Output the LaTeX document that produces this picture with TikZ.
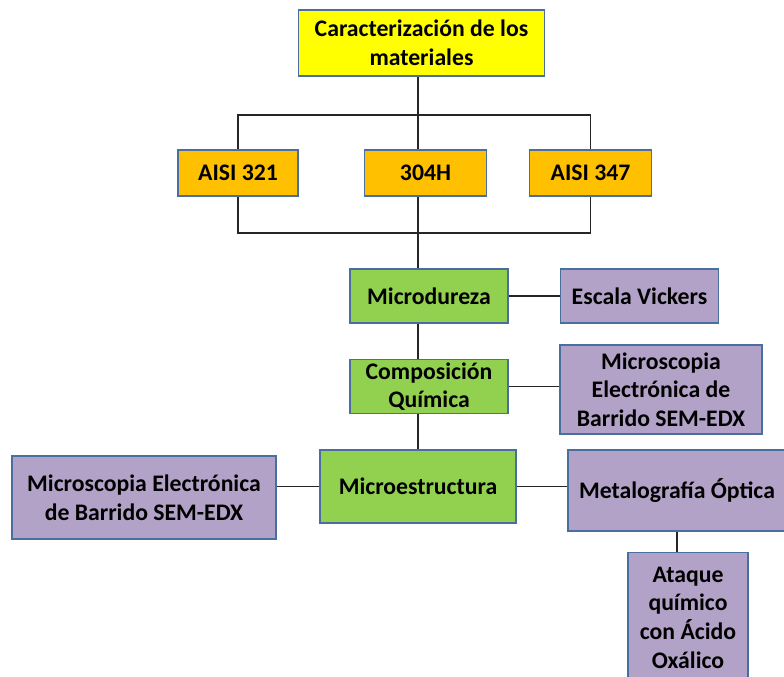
\documentclass[tikz,border=0pt]{standalone}
\usepackage{fontspec}
\setmainfont{Carlito}
\usetikzlibrary{positioning}

\definecolor{BoxYellow}{HTML}{FFFF00}
\definecolor{BoxOrange}{HTML}{FFC000}
\definecolor{BoxGreen}{HTML}{92D050}
\definecolor{BoxLilac}{HTML}{B3A2C7}
\definecolor{BoxEdge}{HTML}{4A6E9E}

\begin{document}
\begin{tikzpicture}[x=0.75pt, y=-0.75pt,
    box/.style={draw=BoxEdge, line width=0.9pt, align=center, inner sep=2pt,
      font=\fontsize{17.8}{21.5}\selectfont\bfseries},
    title/.style={box, fill=BoxYellow},
    steel/.style={box, fill=BoxOrange, minimum height=34.5pt},
    test/.style={box, fill=BoxGreen},
    method/.style={box, fill=BoxLilac},
    link/.style={line width=1.2pt, draw=black!85}]
  \useasboundingbox (0,0) rectangle (784,676);

  % Material under study
  \node[title, minimum width=185pt, minimum height=49.5pt] (top) at (421.5,43)
    {Caracterización de los\\materiales};

  % Steel grades
  \node[steel, minimum width=90pt] (a321) at (238,173) {AISI 321};
  \node[steel, minimum width=92pt] (h304) at (425.5,173) {304H};
  \node[steel, minimum width=91pt] (a347) at (590.5,173) {AISI 347};

  % Tests
  \node[test, minimum width=118.5pt, minimum height=40.5pt] (dureza) at (429,296) {Microdureza};
  \node[test, minimum width=118.5pt, minimum height=39.75pt] (quimica) at (429,386.5)
    {Composición\\Química};
  \node[test, minimum width=147pt, minimum height=54.75pt] (estructura) at (418,486.5)
    {Microestructura};

  % Methods
  \node[method, minimum width=119pt, minimum height=40.5pt] (vickers) at (639.5,296)
    {Escala Vickers};
  \node[method, minimum width=151.5pt, minimum height=66.75pt] (semquim) at (661,389.5)
    {Microscopia\\Electrónica de\\Barrido SEM-EDX};
  \node[method, minimum width=198pt, minimum height=62.25pt] (semest) at (144,497.5)
    {Microscopia Electrónica\\de Barrido SEM-EDX};
  \node[method, minimum width=163.5pt, minimum height=60.75pt] (optica) at (677,490.5)
    {Metalografía Óptica};
  \node[method, minimum width=90pt, minimum height=97pt] (ataque) at (688,617.5)
    {Ataque\\químico\\con Ácido\\Oxálico};

  % Bus lines around the grades
  \coordinate (upbus) at (418,115);
  \coordinate (lowbus) at (418,233);
  \draw[link] (top.south -| upbus) -- (upbus);
  \draw[link] (a321.north) |- (upbus) -| (a347.north);
  \draw[link] (upbus) -- (h304.north -| upbus);
  \draw[link] (a321.south) |- (lowbus) -| (a347.south);
  \draw[link] (h304.south -| lowbus) -- (dureza.north -| lowbus);

  % Trunk through the tests
  \draw[link] (dureza.south -| lowbus) -- (quimica.north -| lowbus);
  \draw[link] (quimica.south -| lowbus) -- (estructura.north -| lowbus);

  % Side branches
  \draw[link] (dureza.east) -- (dureza.east -| vickers.west);
  \draw[link] (quimica.east) -- (quimica.east -| semquim.west);
  \draw[link] (estructura.west) -- (estructura.west -| semest.east);
  \draw[link] (estructura.east) -- (estructura.east -| optica.west);
  \draw[link] (optica.south) -- (optica.south |- ataque.north);
\end{tikzpicture}
\end{document}
